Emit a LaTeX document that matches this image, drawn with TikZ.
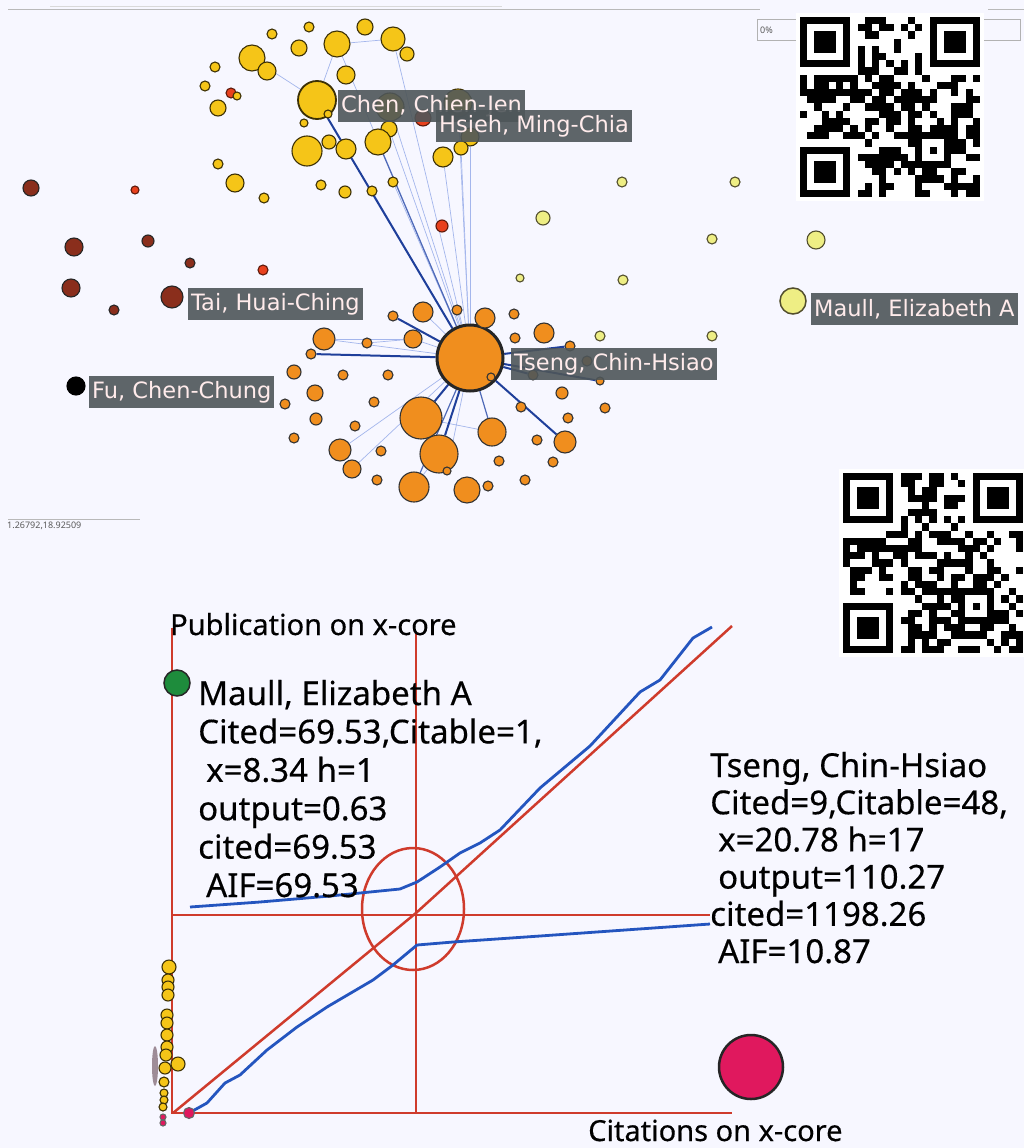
\documentclass[tikz,border=0pt]{standalone}
\usepackage{fontspec}
\setmainfont{Noto Sans}
\newfontfamily\labelfont{DejaVu Sans}
\newfontfamily\chartfont[FakeBold=0.4]{Noto Sans}
\usetikzlibrary{backgrounds}

\definecolor{nodeyellow}{HTML}{F5C518}
\definecolor{nodeorange}{HTML}{F08E1E}
\definecolor{nodebrown}{HTML}{8A2E1C}
\definecolor{nodered}{HTML}{E8411E}
\definecolor{nodepale}{HTML}{EEEE84}
\definecolor{edgedark}{HTML}{1F3F9A}
\definecolor{edgelight}{HTML}{A4B6EC}
\definecolor{labelgray}{HTML}{4E5659}
\definecolor{axisred}{HTML}{CF3B2C}
\definecolor{curveblue}{HTML}{2455BF}
\definecolor{dotgreen}{HTML}{1E8C3C}
\definecolor{dotpink}{HTML}{E0185E}

\tikzset{
  vertex/.style={circle, inner sep=0pt, line width=1.1pt},
  yel/.style={vertex, fill=nodeyellow, draw=black!75!nodeyellow},
  org/.style={vertex, fill=nodeorange, draw=black!80},
  brn/.style={vertex, fill=nodebrown, draw=black!85},
  rd/.style={vertex, fill=nodered, draw=black!60!nodered},
  pale/.style={vertex, fill=nodepale, draw=black!55!olive},
  thinedge/.style={draw=edgelight, line width=0.7pt},
  midedge/.style={draw=edgedark!65!edgelight, line width=1.2pt},
  thickedge/.style={draw=edgedark, line width=2pt},
  namebox/.style={fill=labelgray, fill opacity=0.9, text opacity=1, text=white!92!red,
    font=\labelfont\fontsize{22.5}{26}\selectfont, inner xsep=3pt, inner ysep=0pt,
    minimum height=32pt, anchor=west},
  axisline/.style={draw=axisred, line width=2.5pt},
  curveline/.style={draw=curveblue, line width=2.8pt, line join=round},
  charttext/.style={anchor=base west, inner sep=0pt, font=\chartfont\fontsize{33}{38}\selectfont},
  axistext/.style={anchor=base west, inner sep=0pt, font=\chartfont\fontsize{29}{34}\selectfont}
}

% qr block: top-left x, top-left y, module, seed
\newcommand{\qrblock}[4]{%
  \fill[white] (#1-4,#2-4) rectangle (#1+25*#3+4,#2+25*#3+4);
  \pgfmathsetseed{#4}
  \foreach \qi in {0,...,24}{
    \foreach \qj in {0,...,24}{
      \pgfmathtruncatemacro{\qrres}{((\qi<8)&&(\qj<8))||((\qi>16)&&(\qj<8))||((\qi<8)&&(\qj>16))||((\qi>15)&&(\qi<21)&&(\qj>15)&&(\qj<21))||(\qi==6)||(\qj==6)}
      \ifnum\qrres=0
        \pgfmathtruncatemacro{\qrbit}{rnd<0.5}
        \ifnum\qrbit=1 \fill (#1+\qi*#3,#2+\qj*#3) rectangle ++(#3,#3); \fi
      \fi
    }
  }
  \foreach \fa/\fb in {0/0,18/0,0/18}{
    \fill (#1+\fa*#3,#2+\fb*#3) rectangle ++(7*#3,7*#3);
    \fill[white] (#1+\fa*#3+#3,#2+\fb*#3+#3) rectangle ++(5*#3,5*#3);
    \fill (#1+\fa*#3+2*#3,#2+\fb*#3+2*#3) rectangle ++(3*#3,3*#3);
  }
  \fill (#1+16*#3,#2+16*#3) rectangle ++(5*#3,5*#3);
  \fill[white] (#1+17*#3,#2+17*#3) rectangle ++(3*#3,3*#3);
  \fill (#1+18*#3,#2+18*#3) rectangle ++(#3,#3);
  \foreach \tk in {8,10,...,16}{
    \fill (#1+\tk*#3,#2+6*#3) rectangle ++(#3,#3);
    \fill (#1+6*#3,#2+\tk*#3) rectangle ++(#3,#3);
  }
}

\begin{document}
\begin{tikzpicture}[x=1pt,y=-1pt]
  \useasboundingbox (0,0) rectangle (1024,1148);
  \begin{pgfonlayer}{background}
    \fill[white!97!blue] (0,0) rectangle (1024,1148);
  \end{pgfonlayer}

  % window frame
  \draw[gray!55, line width=1pt] (8,10) -- (760,10);
  \draw[gray!30] (50,6) -- (502,6);
  \draw[gray!55, line width=1pt] (988,10) -- (1024,10);
  \draw[gray!60] (757,19) rectangle (1020,40);
  \node[anchor=west, inner sep=1pt, font=\fontsize{9}{10}\selectfont, text=gray!70!black] (pct) at (759,30) {0\%};
  \draw[gray!55] (8,519) -- (140,519);
  \node[anchor=west, inner sep=1pt, font=\fontsize{9}{10}\selectfont, text=gray!70!black] (coords) at (6,526) {1.26792,18.92509};

  % network nodes
  \foreach \x/\y/\r [count=\i] in {31/188/8, 74/247/9, 148/241/6, 190/263/5, 71/288/9, 114/310/5}
    \node[brn, minimum size=\r*2pt] (b\i) at (\x,\y) {};
  \node[brn, minimum size=22pt] (tai) at (172,297) {};
  \node[vertex, fill=black, draw=black, minimum size=18pt] (fu) at (76,386) {};
  \foreach \x/\y/\r [count=\i] in {231/93/5, 135/190/4, 263/270/5, 442/226/6}
    \node[rd, minimum size=\r*2pt] (r\i) at (\x,\y) {};
  \node[yel, minimum size=38pt, line width=1.8pt] (chen) at (317,100) {};
  \foreach \x/\y/\r [count=\i] in {309/27/5, 365/27/8, 272/34/5, 299/48/8, 337/44/13,
      393/39/12, 407/54/7, 252/58/13, 267/71/9, 346/75/9, 215/67/5, 205/86/5,
      237/96/4, 218/108/8, 328/114/4, 304/123/4, 390/107/14, 458/103/14, 389/129/8,
      470/137/9, 307/151/15, 329/142/7, 346/149/10, 378/142/13, 443/157/10, 461/148/7,
      218/164/5, 235/183/9, 264/198/5, 321/185/5, 345/192/6, 372/191/5, 393/182/5}
    \node[yel, minimum size=\r*2pt] (y\i) at (\x,\y) {};
  \node[rd, minimum size=16pt] (hsieh) at (423,118) {};
  \foreach \x/\y/\r [count=\i] in {622/182/5, 735/182/5, 543/218/7, 712/239/5, 816/240/9,
      520/278/4, 623/280/5, 600/336/5, 712/336/5}
    \node[pale, minimum size=\r*2pt] (p\i) at (\x,\y) {};
  \node[pale, minimum size=26pt, line width=1.5pt] (maull) at (793,301) {};
  \node[vertex, fill=nodeorange, draw=black!85, line width=3pt, minimum size=66pt] (tseng) at (470,358) {};
  \foreach \x/\y/\r [count=\i] in {423/312/10, 393/316/5, 457/310/5, 485/318/10, 514/314/5,
      544/333/10, 515/338/5, 570/346/5, 324/339/11, 367/343/5, 413/339/9, 311/354/5,
      294/372/7, 343/375/5, 388/375/5, 315/393/8, 285/404/5, 374/402/5, 316/419/6,
      355/426/5, 294/438/5, 421/418/21, 492/432/14, 562/393/6, 605/408/5, 568/418/5,
      521/407/5, 491/377/4, 533/375/5, 587/361/5, 340/450/11, 439/454/19, 381/451/5,
      565/442/11, 537/440/5, 352/469/9, 447/471/4, 499/461/5, 553/462/5, 377/480/5,
      414/487/15, 467/490/13, 488/486/5, 525/480/5, 600/381/4}
    \node[org, minimum size=\r*2pt] (o\i) at (\x,\y) {};

  % network links
  \begin{pgfonlayer}{background}
    \foreach \n in {y5,y6,y17,y18,y19,y20,y23,y25,y26,y32,y33,o1,o3,o4,o9,o11,o31,o36,o37}
      \draw[thinedge] (tseng) -- (\n);
    \draw[thinedge] (y5) -- (chen);
    \draw[thinedge] (y5) -- (y6);
    \draw[thinedge] (y8) -- (chen);
    \draw[thinedge] (o9) -- (o11);
    \draw[thinedge] (o10) -- (o11);
    \draw[thinedge] (o22) -- (o23);
    \draw[thinedge] (o41) -- (o32);
    \foreach \n in {y24,o23,o41}
      \draw[midedge] (tseng) -- (\n);
    \foreach \n in {chen,o2,o12,o22,o32,o34,o8,o45,o29}
      \draw[thickedge] (tseng) -- (\n);
  \end{pgfonlayer}

  % name tags
  \node[namebox] (chentag) at (338,106) {Chen, Chien-Jen};
  \node[namebox] (hsiehtag) at (436,126) {Hsieh, Ming-Chia};
  \node[namebox] (taitag) at (188,304) {Tai, Huai-Ching};
  \node[namebox] (tsengtag) at (511,364) {Tseng, Chin-Hsiao};
  \node[namebox] (maulltag) at (811,309) {Maull, Elizabeth A};
  \node[namebox] (futag) at (89,392) {Fu, Chen-Chung};

  % x-core chart
  \draw[axisline] (172,628) -- (172,1113) -- (732,1113);
  \draw[axisline] (416,632) -- (416,1113);
  \draw[axisline] (172,915) -- (710,915);
  \draw[axisline] (173,1113) -- (416,913) -- (732,626);
  \draw[axisline] (413,909) ellipse [x radius=51, y radius=61];
  \draw[curveline] (190,907) -- (260,902) -- (330,896) -- (400,889) -- (417,882)
    -- (440,867) -- (460,853) -- (480,843) -- (500,830) -- (540,788) -- (590,746)
    -- (640,692) -- (660,680) -- (693,638) -- (712,627);
  \draw[curveline] (189,1113) -- (207,1103) -- (225,1083) -- (240,1075) -- (267,1050)
    -- (297,1027) -- (327,1007) -- (373,980) -- (393,965) -- (417,945) -- (453,942)
    -- (540,936) -- (710,924);

  \fill[black!70!magenta, opacity=0.6] (155,1066) ellipse [x radius=3, y radius=20];
  \foreach \x/\y/\r [count=\i] in {169/967/7, 168/980/6, 168/987/6, 168/995/6, 167/1015/6,
      167/1023/6, 167/1035/6, 167/1047/6, 166/1055/6, 165/1068/6, 178/1064/7,
      164/1082/5, 164/1093/4, 164/1100/4, 163/1107/4}
    \node[yel, minimum size=\r*2pt] (s\i) at (\x,\y) {};
  \node[vertex, fill=dotpink, draw=black!60, minimum size=6pt] (q1) at (163,1117) {};
  \node[vertex, fill=dotpink, draw=black!60, minimum size=6pt] (q2) at (163,1123) {};
  \node[vertex, fill=dotpink, draw=black!60, minimum size=11pt] (q3) at (189,1113) {};
  \node[vertex, fill=dotgreen, draw=black!85, line width=1.5pt, minimum size=26pt] (maulldot) at (177,683) {};
  \node[vertex, fill=dotpink, draw=black!85, line width=2.5pt, minimum size=64pt] (tsengdot) at (751,1067) {};

  \node[axistext] (ylabel) at (170,635) {Publication on x-core};
  \node[axistext] (xlabel) at (588,1141) {Citations on x-core};
  \foreach \t/\dx [count=\i] in {{Maull, Elizabeth A}/0, {Cited=69.53,Citable=1,}/0,
      {x=8.34 h=1}/8, {output=0.63}/0, {cited=69.53}/0, {AIF=69.53}/8}
    \node[charttext] (maull\i) at (198+\dx, 705+38.4*\i-38.4) {\t};
  \foreach \t/\dx [count=\i] in {{Tseng, Chin-Hsiao}/0, {Cited=9,Citable=48,}/0,
      {x=20.78 h=17}/8, {output=110.27}/8, {cited=1198.26}/0, {AIF=10.87}/8}
    \node[charttext] (tseng\i) at (710+\dx, 777+37.2*\i-37.2) {\t};

  % qr codes
  \qrblock{800}{17}{7.2}{42}
  \qrblock{843}{473}{7.2}{7}
\end{tikzpicture}
\end{document}
